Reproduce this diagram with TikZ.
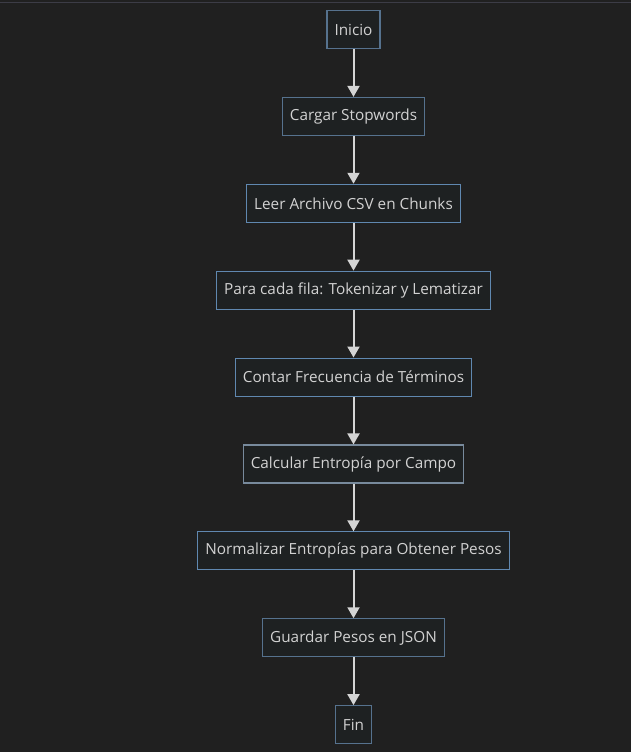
\documentclass[tikz,border=0pt]{standalone}
\usepackage{fontspec}
\setmainfont{Open Sans}
\usetikzlibrary{positioning, arrows.meta}
\definecolor{bgdark}{RGB}{32, 32, 32}
\definecolor{boxfill}{RGB}{30, 33, 34}
\definecolor{edgedim}{RGB}{86, 114, 142}
\definecolor{edgeblue}{RGB}{96, 136, 176}
\definecolor{edgegray}{RGB}{120, 138, 156}
\definecolor{textgray}{RGB}{210, 210, 210}
\definecolor{arrowgray}{RGB}{212, 212, 212}
\definecolor{topline}{RGB}{60, 60, 70}

\begin{document}
\begin{tikzpicture}[x=1pt, y=1pt,
    stepbox/.style={draw=edgedim, line width=1.1pt, fill=boxfill, text=textgray,
        minimum height=38pt, inner xsep=7.5pt, font=\fontsize{15.3}{17}\selectfont},
    flow/.style={-{Triangle[length=11pt, width=12pt]}, line width=2pt, draw=arrowgray},
    node distance=47.8pt]
    \fill[bgdark] (0,0) rectangle (631,-752);
    \useasboundingbox (0,0) rectangle (631,-752);
    \draw[topline, line width=1.5pt] (0,-2.5) -- (631,-2.5);
    % pasos del proceso
    \node[stepbox] (inicio) at (353.5,-29.5) {Inicio};
    \node[stepbox, below=of inicio] (cargar) {Cargar Stopwords};
    \node[stepbox, draw=edgeblue, below=of cargar] (leer) {Leer Archivo CSV en Chunks};
    \node[stepbox, draw=edgeblue, below=of leer] (fila) {Para cada fila: Tokenizar y Lematizar};
    \node[stepbox, draw=edgeblue, below=of fila] (contar) {Contar Frecuencia de Términos};
    \node[stepbox, draw=edgegray, below=of contar] (entropia) {Calcular Entropía por Campo};
    \node[stepbox, draw=edgeblue, below=of entropia] (normalizar) {Normalizar Entropías para Obtener Pesos};
    \node[stepbox, below=of normalizar] (guardar) {Guardar Pesos en JSON};
    \node[stepbox, below=of guardar] (fin) {Fin};
    % flechas
    \foreach \a/\b in {inicio/cargar, cargar/leer, leer/fila, fila/contar,
        contar/entropia, entropia/normalizar, normalizar/guardar, guardar/fin}
    {
        \draw[flow] (\a) -- (\b);
    }
\end{tikzpicture}
\end{document}
